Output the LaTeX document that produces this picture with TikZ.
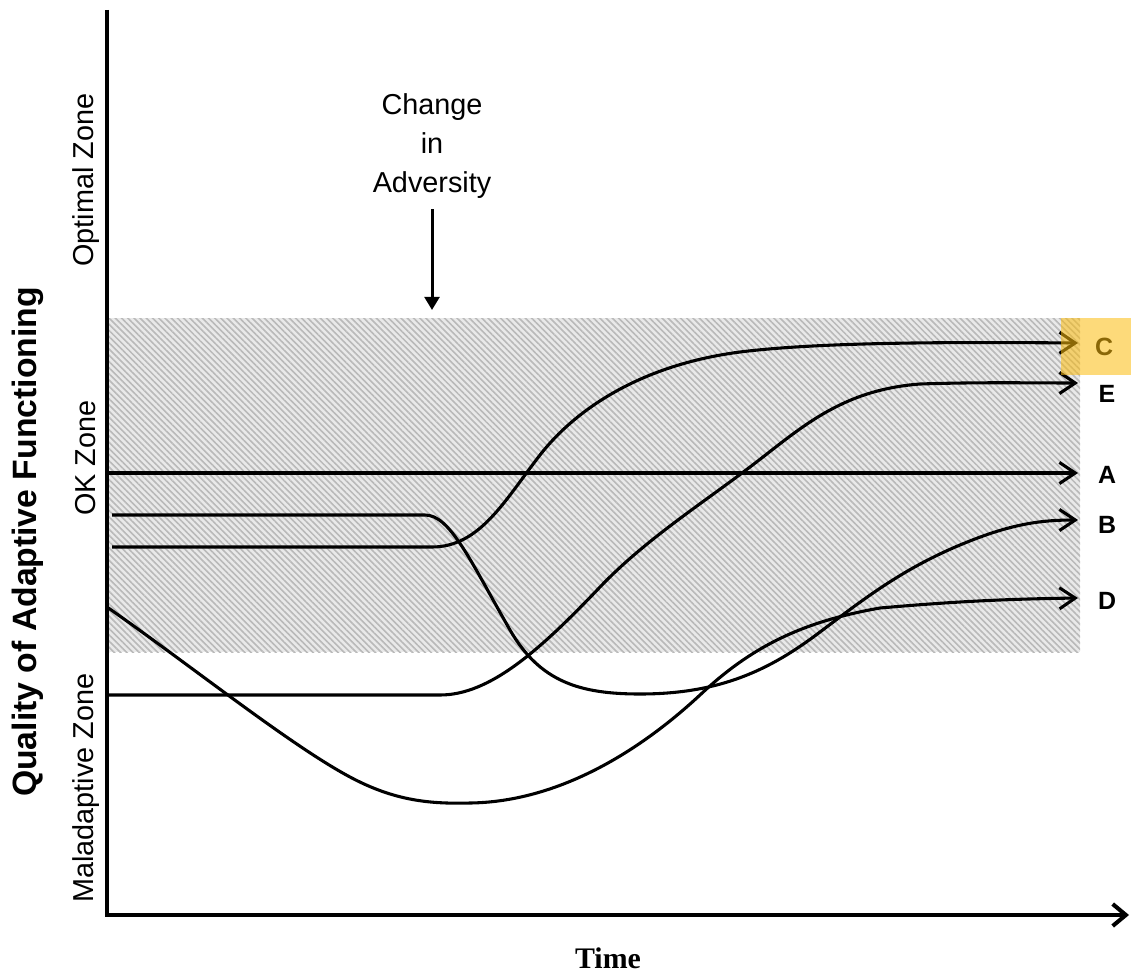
\documentclass[tikz,border=0pt]{standalone}
\usepackage{fontspec}
\setmainfont{Liberation Sans}
\newfontfamily\timesfont{Liberation Serif}
\usetikzlibrary{arrows.meta}
\usetikzlibrary{patterns.meta}
\usetikzlibrary{positioning}

\definecolor{hlyellow}{RGB}{252,188,13}

\begin{document}
\begin{tikzpicture}[x=0.02cm,y=-0.02cm]
\tikzstyle{curve}=[line width=1.75pt,draw=black,-{Straight Barb[length=9pt,width=12pt]}];
\tikzstyle{axis}=[line width=2.3pt,draw=black];
\tikzstyle{zone}=[rotate=90,font=\fontsize{16.4}{20}\selectfont,inner sep=0pt];
\tikzstyle{curvelab}=[font=\bfseries\fontsize{14.2}{17}\selectfont,inner sep=0pt];

\useasboundingbox (0,0) rectangle (1131,973);

% OK zone band
\fill[gray!17] (109,318) rectangle (1080,652);
\fill[pattern={Lines[angle=-45,distance=2.5pt,line width=0.9pt]},pattern color=gray!55] (109,318) rectangle (1080,652);

% axes
\coordinate (O) at (107,915);
\coordinate (ytop) at (107,10);
\coordinate (xend) at (1129,915);
\draw[axis] (ytop) -- (O);
\draw[axis,-{Straight Barb[length=7.5pt,width=12.5pt]}] ([xshift=-1pt]O) -- (xend);

% change in adversity
\node[align=center,inner sep=0pt,font=\fontsize{16.4}{22}\selectfont] (chg) at (432,146) {Change\\in\\Adversity};
\coordinate (hit) at (432,310);
\draw[line width=1.7pt,-{Triangle[length=7.5pt,width=8.5pt]},shorten <=0.22cm] (chg.south) -- (hit);

% curve ends
\coordinate (endC) at (1078,343);
\coordinate (endE) at (1078,383);
\coordinate (endA) at (1078,473);
\coordinate (endB) at (1078,520);
\coordinate (endD) at (1078,598);

% A
\draw[curve] (107,473) -- (endA);
% C
\draw[curve] (112,547) -- (432,547) .. controls (480,547) and (505,500) .. (540,455)
  .. controls (575,410) and (640,365) .. (740,352) .. controls (820,342) and (950,342) .. (endC);
% E
\draw[curve] (107,695) -- (440,695) .. controls (490,695) and (540,650) .. (600,587)
  .. controls (645,540) and (700,505) .. (750,467) .. controls (800,429) and (840,390) .. (920,384)
  .. controls (980,382) and (1030,383) .. (endE);
% B
\draw[curve] (112,515) -- (425,515) .. controls (450,515) and (470,560) .. (510,630)
  .. controls (540,682) and (580,694) .. (640,694) .. controls (720,694) and (770,670) .. (820,632)
  .. controls (860,602) and (900,570) .. (960,545) .. controls (1010,524) and (1040,520) .. (endB);
% D
\draw[curve] (107,607) .. controls (190,665) and (290,745) .. (350,777)
  .. controls (395,801) and (430,804) .. (470,803) .. controls (550,802) and (630,760) .. (700,695)
  .. controls (750,648) and (800,622) .. (880,608) .. controls (960,601) and (1010,599) .. (endD);

% labels
\node[curvelab] (labC) at (1104,347) {C};
\node[curvelab] (labE) at (1107,394) {E};
\node[curvelab] (labA) at (1107,475) {A};
\node[curvelab] (labB) at (1107,525) {B};
\node[curvelab] (labD) at (1107,601) {D};

\node[zone] (optzone) at (86,180) {Optimal Zone};
\node[zone] (okzone) at (86,458) {OK Zone};
\node[zone] (malzone) at (86,788) {Maladaptive Zone};
\node[rotate=90,inner sep=0pt,font=\bfseries\fontsize{19.2}{22}\selectfont] (quality) at (28,542) {Quality of Adaptive Functioning};
\node[inner sep=0pt,font=\timesfont\bfseries\fontsize{17}{20}\selectfont] (time) at (608,958) {Time};

% highlight
\fill[hlyellow,opacity=0.55] (1061,318) rectangle (1131,375);

\end{tikzpicture}
\end{document}
